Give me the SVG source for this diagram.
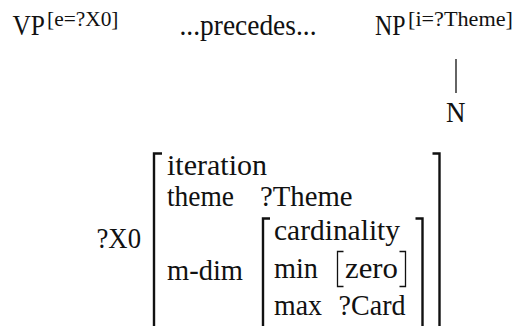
<svg xmlns="http://www.w3.org/2000/svg" width="531" height="326" viewBox="0 0 531 326">
<style>
text{font-family:"Liberation Serif","Times New Roman",serif;fill:#111;}
.big{font-size:29.5px;}
.sup{font-size:22px;}
.br{fill:none;stroke:#111;stroke-width:2.4;stroke-linecap:butt;}
.ln{fill:none;stroke:#111;stroke-width:1.3;}
</style>
<rect width="531" height="326" fill="#fff"/>
<g id="vp">
<text class="big" x="12.5" y="35" textLength="32.5" lengthAdjust="spacingAndGlyphs">VP</text>
<text class="sup" x="47" y="26" textLength="71.5" lengthAdjust="spacingAndGlyphs">[e=?X0]</text>
</g>
<g id="precedes">
<text class="big" x="179.5" y="35" textLength="137" lengthAdjust="spacingAndGlyphs">...precedes...</text>
</g>
<g id="np">
<text class="big" x="375" y="35" textLength="30.5" lengthAdjust="spacingAndGlyphs">NP</text>
<text class="sup" x="408" y="26" textLength="105" lengthAdjust="spacingAndGlyphs">[i=?Theme]</text>
</g>
<g id="n">
<text class="big" x="446" y="122" textLength="19.5" lengthAdjust="spacingAndGlyphs">N</text>
</g>
<g id="connectors">
<line class="ln" x1="456" y1="59" x2="456" y2="93"/>
</g>
<g id="avm">
<text class="big" x="96.5" y="248" textLength="44.5" lengthAdjust="spacingAndGlyphs">?X0</text>
<path class="br" d="M162,153.5 H154 V330"/>
<path class="br" d="M432.5,153.5 H439.5 V330"/>
<text class="big" x="167" y="175" textLength="100" lengthAdjust="spacingAndGlyphs">iteration</text>
<text class="big" x="167" y="206" textLength="67" lengthAdjust="spacingAndGlyphs">theme</text>
<text class="big" x="260" y="206" textLength="92.5" lengthAdjust="spacingAndGlyphs">?Theme</text>
<text class="big" x="167" y="280" textLength="76" lengthAdjust="spacingAndGlyphs">m-dim</text>
<path class="br" d="M270,218.5 H263 V330"/>
<path class="br" d="M415.5,218.5 H422.5 V330"/>
<text class="big" x="274" y="240" textLength="126" lengthAdjust="spacingAndGlyphs">cardinality</text>
<text class="big" x="274" y="277.5" textLength="44" lengthAdjust="spacingAndGlyphs">min</text>
<path class="ln" d="M343.5,251.5 H337.5 V286.5 H343.5"/>
<text class="big" x="345" y="277.5" textLength="53" lengthAdjust="spacingAndGlyphs">zero</text>
<path class="ln" d="M399.5,251.5 H405.5 V286.5 H399.5"/>
<text class="big" x="274" y="315" textLength="48" lengthAdjust="spacingAndGlyphs">max</text>
<text class="big" x="338.5" y="315" textLength="67" lengthAdjust="spacingAndGlyphs">?Card</text>
</g>
</svg>
